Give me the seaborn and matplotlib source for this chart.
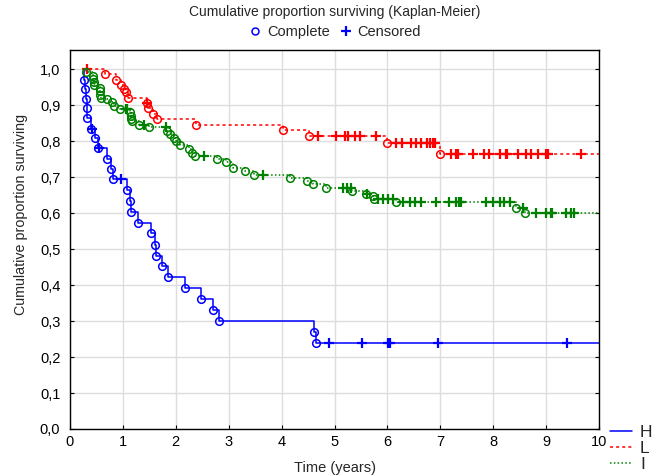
import numpy as np
import matplotlib
matplotlib.use('Agg')
import matplotlib.pyplot as plt
import seaborn as sns
from matplotlib.lines import Line2D
from matplotlib.ticker import FuncFormatter, MultipleLocator

# Kaplan-Meier estimates
start_time = 0.25

# group H
h_event_t = [0.26, 0.29, 0.31, 0.32, 0.33, 0.39, 0.48, 0.52, 0.70, 0.78, 0.82, 1.07, 1.14,
             1.155, 1.29, 1.525, 1.61, 1.62, 1.73, 1.85, 2.18, 2.47, 2.70, 2.82, 4.61, 4.65]
h_event_s = [0.970, 0.944, 0.918, 0.891, 0.865, 0.834, 0.809, 0.781, 0.751, 0.723, 0.694, 0.663, 0.633,
             0.603, 0.573, 0.544, 0.512, 0.481, 0.452, 0.422, 0.392, 0.361, 0.331, 0.301, 0.270, 0.240]
h_cens_t = [0.42, 0.55, 0.96, 4.89, 5.52, 6.02, 6.04, 6.95, 9.40]

# group L
l_event_t = [0.66, 0.87, 0.96, 1.02, 1.06, 1.09, 1.45, 1.47, 1.56, 1.64, 2.39, 4.02, 4.52, 5.99, 7.00]
l_event_s = [0.985, 0.969, 0.955, 0.944, 0.937, 0.921, 0.906, 0.891, 0.876, 0.861, 0.844, 0.830,
             0.815, 0.795, 0.763]
l_cens_t = [0.33, 1.46, 4.69, 5.03, 5.20, 5.26, 5.39, 5.48, 5.79, 6.17, 6.27, 6.45, 6.55, 6.64,
            6.74, 6.80, 6.86, 6.90, 7.21, 7.30, 7.33, 7.61, 7.83, 7.93, 8.12, 8.24, 8.27, 8.46,
            8.62, 8.71, 8.84, 9.00, 9.03, 9.66]

# group I
i_event_t = [0.30, 0.43, 0.44, 0.45, 0.46, 0.56, 0.57, 0.575, 0.58, 0.70, 0.80, 0.83, 0.95, 1.14,
             1.15, 1.16, 1.18, 1.31, 1.49, 1.83, 1.89, 1.96, 2.00, 2.08, 2.25, 2.31, 2.37, 2.78,
             2.94, 3.09, 3.31, 3.47, 4.16, 4.48, 4.60, 4.84, 5.34, 5.60, 5.72, 5.74, 6.17, 8.43, 8.61]
i_event_s = [0.992, 0.982, 0.973, 0.964, 0.955, 0.948, 0.939, 0.927, 0.919, 0.916, 0.908, 0.897,
             0.890, 0.881, 0.871, 0.862, 0.855, 0.846, 0.839, 0.828, 0.819, 0.809, 0.800, 0.788,
             0.777, 0.768, 0.758, 0.751, 0.742, 0.726, 0.716, 0.707, 0.698, 0.689, 0.680, 0.669,
             0.661, 0.652, 0.648, 0.638, 0.631, 0.615, 0.601]
i_cens_t = [1.05, 1.08, 1.39, 1.82, 2.54, 3.64, 5.17, 5.23, 5.32, 5.62, 5.83, 5.92, 6.01, 6.11,
            6.30, 6.42, 6.52, 6.64, 6.92, 7.17, 7.30, 7.36, 7.40, 7.87, 7.99, 8.12, 8.21, 8.31,
            8.56, 8.81, 9.00, 9.09, 9.12, 9.37, 9.47, 9.53]

end_time = 10.0

groups = [
    ('H', h_event_t, h_event_s, h_cens_t, '#0000ff', '-'),
    ('L', l_event_t, l_event_s, l_cens_t, '#ff0000', (0, (2, 2))),
    ('I', i_event_t, i_event_s, i_cens_t, '#008000', (0, (1, 1.5))),
]

sns.set_style('white')
plt.rcParams['font.family'] = ['Liberation Sans', 'DejaVu Sans']

fig = plt.figure(figsize=(6.56, 4.76), dpi=100)
ax = fig.add_axes([70 / 656, 47 / 476, 529 / 656, 379 / 476])

for name, et, es, ct, col, ls in groups:
    xs = [start_time] + list(et) + [end_time]
    ys = [1.0] + list(es) + [es[-1]]
    sns.lineplot(x=xs, y=ys, drawstyle='steps-post', color=col, linestyle=ls, lw=1.1,
                 estimator=None, sort=False, ax=ax, label=name)
    # censored points sit on the current survival value
    cs = []
    for t in ct:
        k = np.searchsorted(xs, t, side='right') - 1
        cs.append(ys[k])
    ax.plot(et, es, ls='', marker='o', ms=5.5, mfc='none', mec=col, mew=1.1)
    ax.plot(ct, cs, ls='', marker='+', ms=7, color=col, mew=1.6)

ax.set_xlim(0, 10)
ax.set_ylim(0, 1.053)
ax.xaxis.set_major_locator(MultipleLocator(1))
ax.yaxis.set_major_locator(MultipleLocator(0.1))
ax.yaxis.set_major_formatter(FuncFormatter(lambda v, p: f"{v:.1f}".replace('.', ',')))
ax.grid(True, color='#dddddd', lw=1)
ax.set_axisbelow(True)
for sp in ax.spines.values():
    sp.set_color('black')
    sp.set_linewidth(1)
ax.tick_params(direction='in', length=3, labelsize=10.5, colors='black',
               left=True, right=True, bottom=True, top=False)
ax.tick_params(axis='y', pad=7)
ax.tick_params(axis='x', pad=4)

ax.set_xlabel('Time (years)', fontsize=10.5, labelpad=9)
ax.set_ylabel('Cumulative proportion surviving', fontsize=10.3)
ax.yaxis.set_label_coords(-0.079, 0.565)

# group legend outside, bottom right
h, lab = ax.get_legend_handles_labels()
ax.legend(h, lab, loc='upper left', bbox_to_anchor=(1.02, 0.012), frameon=False,
          fontsize=12.5, handlelength=1.3, handletextpad=0.45, labelspacing=0.05,
          borderaxespad=0, borderpad=0)

fig.text(0.51, 0.974, 'Cumulative proportion surviving (Kaplan-Meier)', ha='center',
         va='center', fontsize=10)
mk = [Line2D([], [], ls='', marker='o', ms=5, mfc='none', mec='#0000ff', mew=1.1),
      Line2D([], [], ls='', marker='+', ms=7, color='#0000ff', mew=1.6)]
fig.legend(mk, ['Complete', 'Censored'], ncol=2, loc='center', bbox_to_anchor=(0.51, 0.932),
           frameon=False, fontsize=10.5, handlelength=1.0, handletextpad=0.3,
           columnspacing=0.6, borderpad=0)

fig.savefig('out.png', dpi=100)
